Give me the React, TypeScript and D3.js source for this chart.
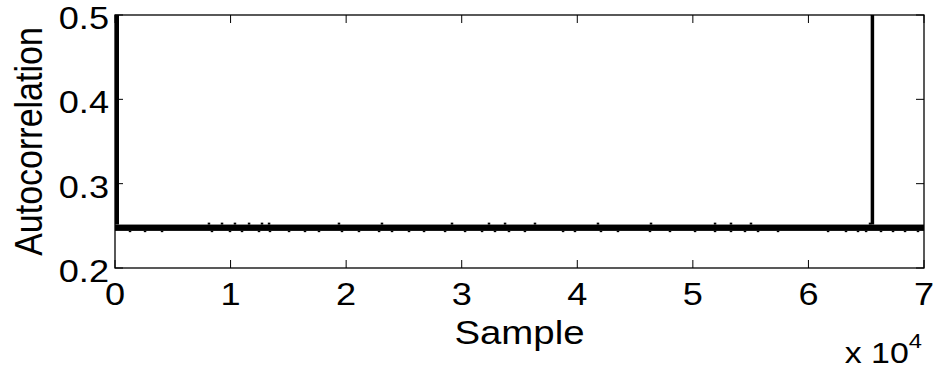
import React, { useEffect, useRef } from "react";
import * as d3 from "d3";

// x ticks (in units of 10^4 samples) and y ticks
const xTicks = [0, 1, 2, 3, 4, 5, 6, 7];
const yTicks = [0.2, 0.3, 0.4, 0.5];

// steady autocorrelation band
const bandLow = 0.244;
const bandHigh = 0.2515;

// peaks (clipped at the top of the axis)
const spikes = [
  { sample: 0, value: 0.5 },
  { sample: 65536, value: 0.5 },
];

// small downward excursions below the band
const dipSamples = [
  1300, 2600, 4070, 8390, 9950, 10990, 12460, 13410, 15060, 16440, 17650,
  19640, 21110, 22850, 23970, 25440, 26740, 28560, 30290, 31760, 32880, 34090,
  35470, 38770, 39800, 42050, 43520, 46290, 48020, 50190, 51920, 53300, 54510,
  55640, 57370, 61700, 63250, 64290, 64990, 66280, 67320, 68360, 69480,
];
const dipValue = 0.2425;

// small upward excursions above the band
const bumpSamples = [
  8130, 9260, 10380, 11600, 12720, 13330, 19380, 23100, 29160, 32360, 33750,
  36340, 41790, 46380, 51920, 53300, 55030, 65330,
];
const bumpValue = 0.2538;

const App = () => {
  const svgRef = useRef<SVGSVGElement>(null);

  useEffect(() => {
    const W = 937;
    const H = 372;
    const margin = { top: 15, right: 13, bottom: 104, left: 115 };
    const width = W - margin.left - margin.right;
    const height = H - margin.top - margin.bottom;
    const font = "Liberation Sans, Arial, sans-serif";
    const sx = 1.13; // the picture is a little stretched sideways

    const root = d3.select(svgRef.current);
    root.selectAll("*").remove();
    root.attr("width", W).attr("height", H);

    root.append("rect").attr("width", W).attr("height", H).attr("fill", "#fff");

    root
      .append("defs")
      .append("clipPath")
      .attr("id", "plot-clip")
      .append("rect")
      .attr("width", width)
      .attr("height", height);

    const svg = root
      .append("g")
      .attr("transform", `translate(${margin.left},${margin.top})`);

    const x = d3.scaleLinear().domain([0, 70000]).range([0, width]);
    const y = d3.scaleLinear().domain([0.2, 0.5]).range([height, 0]);

    const plot = svg.append("g").attr("clip-path", "url(#plot-clip)");

    // band
    plot
      .append("rect")
      .attr("x", x(0))
      .attr("width", x(70000) - x(0))
      .attr("y", y(bandHigh))
      .attr("height", y(bandLow) - y(bandHigh))
      .attr("fill", "#000");

    // dips
    plot
      .selectAll(".dip")
      .data(dipSamples)
      .enter()
      .append("line")
      .attr("x1", (d) => x(d))
      .attr("x2", (d) => x(d))
      .attr("y1", y(bandLow))
      .attr("y2", y(dipValue))
      .attr("stroke", "#000")
      .attr("stroke-width", 2.5);

    // bumps
    plot
      .selectAll(".bump")
      .data(bumpSamples)
      .enter()
      .append("line")
      .attr("x1", (d) => x(d))
      .attr("x2", (d) => x(d))
      .attr("y1", y(bandHigh))
      .attr("y2", y(bumpValue))
      .attr("stroke", "#000")
      .attr("stroke-width", 2.5);

    // spikes
    plot
      .selectAll(".spike")
      .data(spikes)
      .enter()
      .append("line")
      .attr("x1", (d) => x(d.sample))
      .attr("x2", (d) => x(d.sample))
      .attr("y1", y(bandHigh))
      .attr("y2", (d) => y(d.value))
      .attr("stroke", "#000")
      .attr("stroke-width", (d) => (d.sample === 0 ? 8 : 3.5));

    // box
    svg
      .append("rect")
      .attr("width", width)
      .attr("height", height)
      .attr("fill", "none")
      .attr("stroke", "#000")
      .attr("stroke-width", 1.3);

    const tick = 8;
    // x ticks, top and bottom, pointing inward
    xTicks.forEach((t) => {
      const px = x(t * 10000);
      svg.append("line").attr("x1", px).attr("x2", px).attr("y1", height).attr("y2", height - tick).attr("stroke", "#000");
      svg.append("line").attr("x1", px).attr("x2", px).attr("y1", 0).attr("y2", tick).attr("stroke", "#000");
      svg
        .append("text")
        .attr("transform", `translate(${px},${height + 37}) scale(${sx},1)`)
        .attr("text-anchor", "middle")
        .style("font-family", font)
        .style("font-size", "32px")
        .text(t);
    });

    // y ticks
    yTicks.forEach((t) => {
      const py = y(t);
      svg.append("line").attr("x1", 0).attr("x2", tick).attr("y1", py).attr("y2", py).attr("stroke", "#000");
      svg.append("line").attr("x1", width).attr("x2", width - tick).attr("y1", py).attr("y2", py).attr("stroke", "#000");
      svg
        .append("text")
        .attr("transform", `translate(-6,${py + 14}) scale(${sx},1)`)
        .attr("text-anchor", "end")
        .style("font-family", font)
        .style("font-size", "32px")
        .text(t.toFixed(1));
    });

    // axis labels
    svg
      .append("text")
      .attr("transform", `translate(${width / 2},${height + 76}) scale(${sx},1)`)
      .attr("text-anchor", "middle")
      .style("font-family", font)
      .style("font-size", "34px")
      .text("Sample");

    svg
      .append("text")
      .attr("transform", `translate(${-73},${height / 2}) scale(${sx},1) rotate(-90)`)
      .attr("text-anchor", "middle")
      .style("font-family", font)
      .style("font-size", "34px")
      .text("Autocorrelation");

    const exp = svg
      .append("text")
      .attr("transform", `translate(${width - 2},${height + 95}) scale(${sx},1)`)
      .attr("text-anchor", "end")
      .style("font-family", font)
      .style("font-size", "30px");
    exp.append("tspan").text("x 10");
    exp
      .append("tspan")
      .attr("dy", -15)
      .style("font-size", "21px")
      .text("4");
  }, []);

  return (
    <div style={{ position: "absolute", left: 0, top: 0 }}>
      <svg ref={svgRef}></svg>
    </div>
  );
};

export default App;
